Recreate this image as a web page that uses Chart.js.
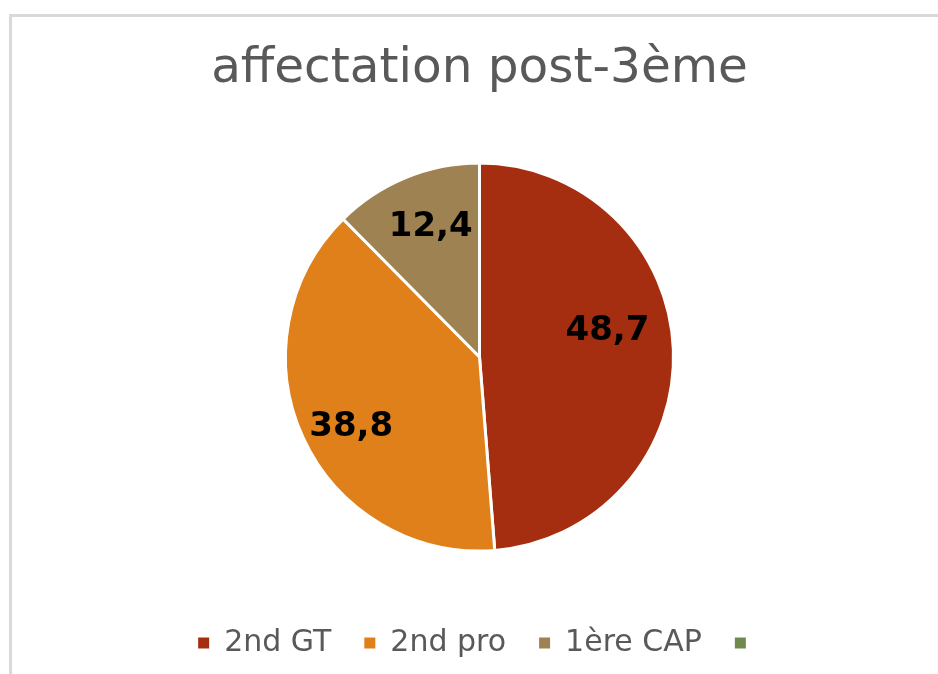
<!DOCTYPE html>
<html>
<head>
<meta charset="utf-8">
<script src="https://cdn.jsdelivr.net/npm/chart.js@4.4.1/dist/chart.umd.min.js"></script>
<style>
  html, body { margin: 0; padding: 0; background: #fff; overflow: hidden; }
  #frame { position: absolute; left: 9px; top: 14px; width: 1000px; height: 700px;
           border-left: 3px solid #d9d9d9; border-top: 3px solid #d9d9d9; }
  #wrap { position: absolute; left: 0; top: 0; width: 938px; height: 674px; }
</style>
</head>
<body>
<div id="frame"></div>
<div id="wrap"><canvas id="c" width="938" height="674"></canvas></div>
<script>
const titleText = "affectation post-3ème";
const categories = ["2nd GT", "2nd pro", "1ère CAP", ""];
const values = [48.7, 38.8, 12.4, 0];
const colors = ["#A52E10", "#DF801A", "#9F8251", "#6F8A4F"];

const labelPlugin = {
  id: 'sliceLabels',
  afterDatasetsDraw(chart, args, opts) {
    const ctx = chart.ctx;
    const meta = chart.getDatasetMeta(0);
    ctx.save();
    ctx.font = opts.font;
    ctx.fillStyle = opts.color;
    ctx.textAlign = 'center';
    ctx.textBaseline = 'middle';
    meta.data.forEach((arc, i) => {
      const v = chart.data.datasets[0].data[i];
      if (!v) return;
      const p = arc.getProps(['startAngle', 'endAngle', 'outerRadius', 'x', 'y'], true);
      const mid = (p.startAngle + p.endAngle) / 2;
      const r = p.outerRadius * opts.frac[i];
      const off = opts.offsets[i];
      const x = p.x + Math.cos(mid) * r + off[0];
      const y = p.y + Math.sin(mid) * r + off[1];
      ctx.fillText(String(v).replace('.', ','), x, y);
    });
    ctx.restore();
  }
};

new Chart(document.getElementById('c'), {
  type: 'pie',
  data: {
    labels: categories,
    datasets: [{
      data: values,
      backgroundColor: colors,
      borderColor: '#ffffff',
      borderWidth: [3, 3, 3, 0],
      radius: 194
    }]
  },
  options: {
    responsive: false,
    animation: false,
    layout: { padding: { left: 21, right: 0, top: 0, bottom: 6 } },
    plugins: {
      title: {
        display: true,
        text: titleText,
        color: '#595959',
        font: { family: 'DejaVu Sans', size: 48.5, weight: 'normal' },
        padding: { top: 40, bottom: 20.8 }
      },
      legend: {
        position: 'bottom',
        labels: {
          boxWidth: 11,
          boxHeight: 11,
          padding: 33,
          color: '#595959',
          font: { family: 'DejaVu Sans', size: 30 },
          generateLabels(chart) {
            const items = Chart.overrides.pie.plugins.legend.labels.generateLabels(chart);
            items.forEach(it => { it.lineWidth = 0; it.strokeStyle = 'rgba(0,0,0,0)'; });
            return items;
          }
        }
      },
      tooltip: { enabled: false },
      sliceLabels: {
        font: 'bold 34px "DejaVu Sans"',
        color: '#000000',
        frac: [0.66, 0.75, 0.716, 0],
        offsets: [[0, -21], [4, 10], [4, -1], [0, 0]]
      }
    }
  },
  plugins: [labelPlugin]
});
</script>
</body>
</html>
